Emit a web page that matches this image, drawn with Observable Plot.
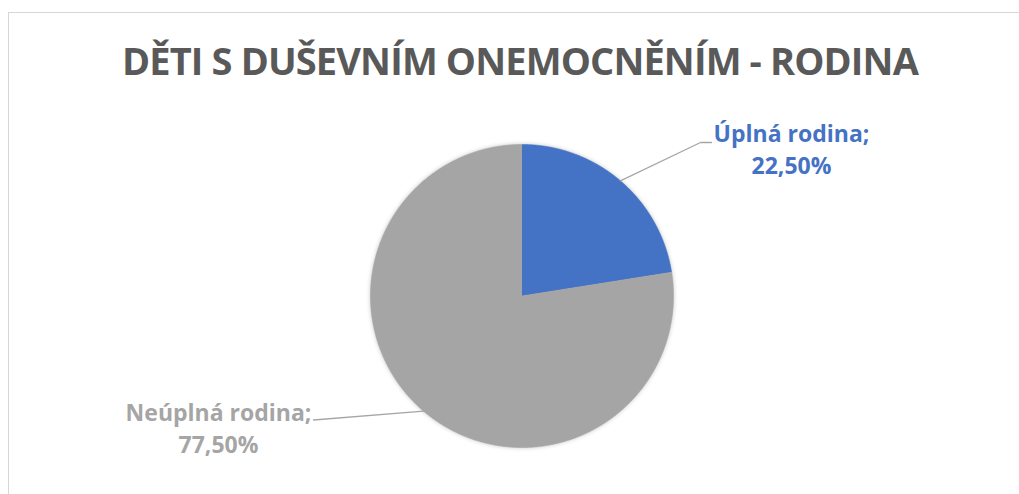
<!DOCTYPE html>
<html><head><meta charset="utf-8">
<script src="https://cdn.jsdelivr.net/npm/d3@7"></script>
<script src="https://cdn.jsdelivr.net/npm/@observablehq/plot@0.6"></script>
<style>
body{margin:0;width:1019px;height:494px;overflow:hidden;background:#fff;position:relative;font-family:"Open Sans",sans-serif}
#frame{position:absolute;left:8px;top:12px;width:1100px;height:600px;border:1.5px solid #d6d6d6;box-sizing:border-box;z-index:5;pointer-events:none}
#title{position:absolute;left:0;width:1040px;top:41px;text-align:center;font-weight:700;font-size:38px;line-height:38px;color:#595959;white-space:nowrap;margin:0}
#chart{position:absolute;left:0;top:100px}
</style></head><body>
<div id="frame"></div>
<h2 id="title"><span id="tt">DĚTI S DUŠEVNÍM ONEMOCNĚNÍM - RODINA</span></h2>
<div id="chart"></div>
<script>
// ---- data ----
const categories = ["Úplná rodina", "Neúplná rodina"];
const shares = [22.5, 77.5];
const valueLabels = ["22,50%", "77,50%"];
const colors = ["#4472C4", "#A5A5A5"];

// ---- layout (page pixels) ----
const W = 1019, H = 394, TOP = 100;
const CX = 521.5, CY = 295.5, R = 151.5;
const toX = px => (px - CX) / R;
const toY = py => (CY - py) / R;
// leader elbows / ends and label anchors (page px), per category
const leaderPts = [[[700, 142], [711, 142]], [[313, 419.5]]];
const labelAnchor = [[791, 173], [218, 452]];

const rows = categories.map((c, i) => ({cat: c, share: shares[i], label: valueLabels[i]}));
const arcs = d3.pie().sort(null).value(d => d.share)(rows);

const slicePts = [];
arcs.forEach(s => {
  const n = Math.max(2, Math.ceil((s.endAngle - s.startAngle) / 0.005));
  slicePts.push({cat: s.data.cat, x: 0, y: 0});
  for (let i = 0; i <= n; i++) {
    const a = s.startAngle + (s.endAngle - s.startAngle) * i / n;
    slicePts.push({cat: s.data.cat, x: Math.sin(a), y: Math.cos(a)});
  }
});

const leaders = [];
arcs.forEach((s, i) => {
  const m = (s.startAngle + s.endAngle) / 2;
  leaders.push({cat: s.data.cat, x: Math.sin(m), y: Math.cos(m)});
  leaderPts[i].forEach(p => leaders.push({cat: s.data.cat, x: toX(p[0]), y: toY(p[1])}));
});

const labels = arcs.map((s, i) => ({
  cat: s.data.cat,
  text: `${s.data.cat};\n${s.data.label}`,
  x: toX(labelAnchor[i][0]), y: toY(labelAnchor[i][1])
}));

const plot = Plot.plot({
  width: W, height: H,
  x: {domain: [-1, 1], range: [CX - R, CX + R], axis: null},
  y: {domain: [-1, 1], range: [CY - TOP + R, CY - TOP - R], axis: null},
  color: {domain: categories, range: colors},
  style: {fontFamily: "Open Sans", background: "transparent", overflow: "visible"},
  marks: [
    Plot.line(slicePts, {x: "x", y: "y", z: "cat", fill: "cat", stroke: "cat", strokeWidth: 0.6, curve: "linear"}),
    Plot.line(leaders, {x: "x", y: "y", z: "cat", stroke: "#A6A6A6", strokeWidth: 1.3, curve: "linear"}),
    Plot.text(labels, {x: "x", y: "y", text: "text", fill: "cat", fontSize: 23, fontWeight: 700,
      textAnchor: "middle", lineAnchor: "bottom", lineHeight: 1.37})
  ]
});
document.getElementById("chart").appendChild(plot);
const pieG = plot.querySelector('g[aria-label="line"]');
if (pieG) pieG.style.filter = "drop-shadow(0 0 2px rgba(0,0,0,0.22))";

function fitTitle() {
  const tt = document.getElementById("tt");
  tt.style.letterSpacing = "0px";
  const w = tt.getBoundingClientRect().width;
  const n = tt.textContent.length;
  tt.style.letterSpacing = ((796 - w) / n) + "px";
}
fitTitle();
if (document.fonts) document.fonts.ready.then(fitTitle);
</script>
</body></html>
